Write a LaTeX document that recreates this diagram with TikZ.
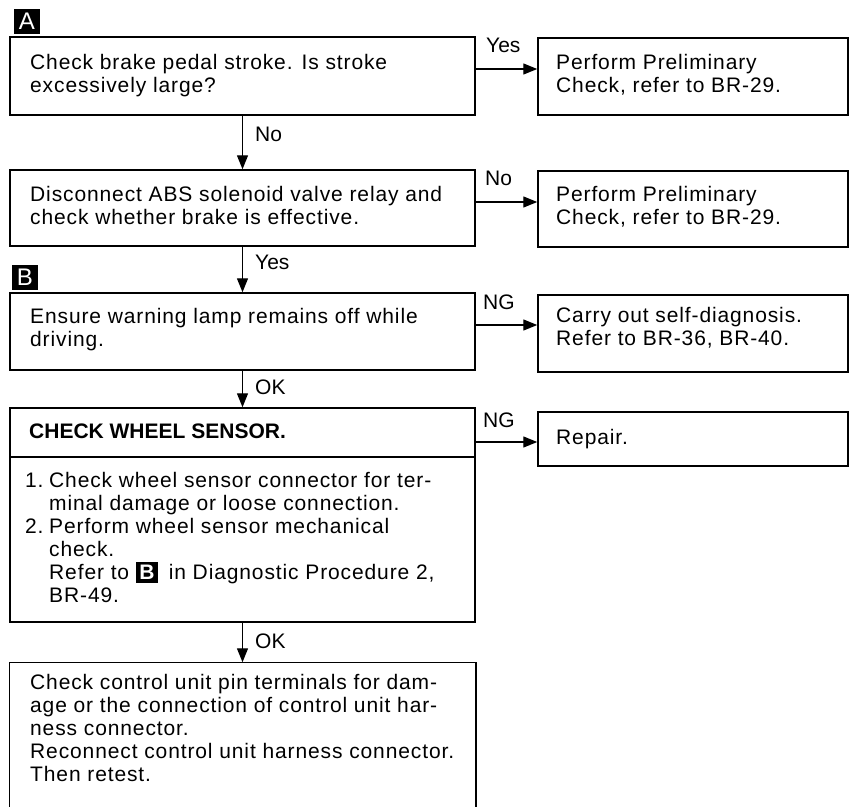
\documentclass[tikz,border=0pt]{standalone}
\usepackage{fontspec}
\setmainfont{Liberation Sans}[LetterSpace=4.2]
\newfontfamily\lblfont{Liberation Sans}
\usetikzlibrary{arrows.meta}
\newcommand{\tagB}{{\setlength{\fboxsep}{3.5pt}\colorbox{black}{\textcolor{white}{\lblfont\bfseries B}}}}
\newcommand{\numitem}[1]{\makebox[24pt][l]{#1}}
\begin{document}
\begin{tikzpicture}[x=1pt,y=-1pt,
  box/.style={draw, line width=1.5pt, rectangle, inner sep=0pt},
  txt/.style={anchor=north west, inner sep=0pt, align=left, font=\fontsize{21}{23}\selectfont},
  lbl/.style={anchor=west, inner sep=0pt, font=\lblfont\fontsize{21}{23}\selectfont},
  tag/.style={fill=black, text=white, inner sep=0pt, minimum width=26pt, minimum height=25pt, font=\lblfont\fontsize{24}{24}\selectfont},
  arr/.style={line width=1.4pt, -{Triangle[length=14pt,width=11pt]}}]
\useasboundingbox (0,0) rectangle (851,806);

% tags
\node[tag] (tagA) at (27,21) {A};
\node[tag] (tagBl) at (25,277) {B};

% boxes
\node[box, minimum width=465pt, minimum height=78pt] (b1) at (242.5,76) {};
\node[box, minimum width=310pt, minimum height=77pt] (r1) at (693,76.5) {};
\node[box, minimum width=465pt, minimum height=76pt] (b2) at (242.5,208) {};
\node[box, minimum width=310pt, minimum height=76pt] (r2) at (693,209) {};
\node[box, minimum width=465pt, minimum height=77pt] (b3) at (242.5,331.5) {};
\node[box, minimum width=310pt, minimum height=77pt] (r3) at (693,333.5) {};
\node[box, minimum width=465pt, minimum height=214pt] (b4) at (242.5,515) {};
\node[box, minimum width=310pt, minimum height=54pt] (r4) at (693,439) {};
\node[box, draw=none, minimum width=465pt, minimum height=143pt] (b5) at (242.5,734.5) {};
\draw[line width=1.5pt] (b5.south west) -- (b5.north west) -- (b5.north east) -- (b5.south east);
\draw[line width=1.5pt] (b4.west |- 0,457) -- (b4.east |- 0,457);

% texts
\node[txt] (t1) at (30,52.9) {\strut Check brake pedal stroke. Is stroke\\ excessively large?};
\node[txt] (tr1) at (556,52.9) {\strut Perform Preliminary\\ Check, refer to BR-29.};
\node[txt] (t2) at (30,185.4) {\strut Disconnect ABS solenoid valve relay and\\ check whether brake is effective.};
\node[txt] (tr2) at (556,185.4) {\strut Perform Preliminary\\ Check, refer to BR-29.};
\node[txt] (t3) at (30,307.4) {\strut Ensure warning lamp remains off while\\ driving.};
\node[txt] (tr3) at (556,306.4) {\strut Carry out self-diagnosis.\\ Refer to BR-36, BR-40.};
\node[txt, font=\lblfont\fontsize{21}{23}\selectfont\bfseries] (t4h) at (29,422.4) {\strut CHECK WHEEL SENSOR.};
\node[txt] (tr4) at (556,428.4) {\strut Repair.};
\node[txt] (t4) at (25,471.4) {\strut \numitem{1.}Check wheel sensor connector for ter-\\
\hspace*{24pt}minal damage or loose connection.\\
\numitem{2.}Perform wheel sensor mechanical\\
\hspace*{24pt}check.\\
\hspace*{24pt}Refer to \tagB\hspace{4pt}\ in Diagnostic Procedure 2,\\
\hspace*{24pt}BR-49.};
\node[txt] (t5) at (30,673.4) {\strut Check control unit pin terminals for dam-\\
age or the connection of control unit har-\\
ness connector.\\
Reconnect control unit harness connector.\\
Then retest.};

% connectors
\draw[arr] (b1.south) -- (b2.north);
\draw[arr] (b2.south) -- (b3.north);
\draw[arr] (b3.south) -- (b4.north);
\draw[arr] (b4.south) -- (b5.north);
\draw[arr] (b1.east |- 0,69) -- (r1.west |- 0,69);
\draw[arr] (b2.east |- 0,202) -- (r2.west |- 0,202);
\draw[arr] (b3.east |- 0,325) -- (r3.west |- 0,325);
\draw[arr] (b4.east |- 0,442) -- (r4.west |- 0,442);

% labels
\node[lbl] (l1) at (486,45) {Yes};
\node[lbl] (l2) at (255,134) {No};
\node[lbl] (l3) at (485,178) {No};
\node[lbl] (l4) at (255,262) {Yes};
\node[lbl] (l5) at (483,302) {NG};
\node[lbl] (l6) at (255,387) {OK};
\node[lbl] (l7) at (483,420) {NG};
\node[lbl] (l8) at (255,641) {OK};
\end{tikzpicture}
\end{document}
